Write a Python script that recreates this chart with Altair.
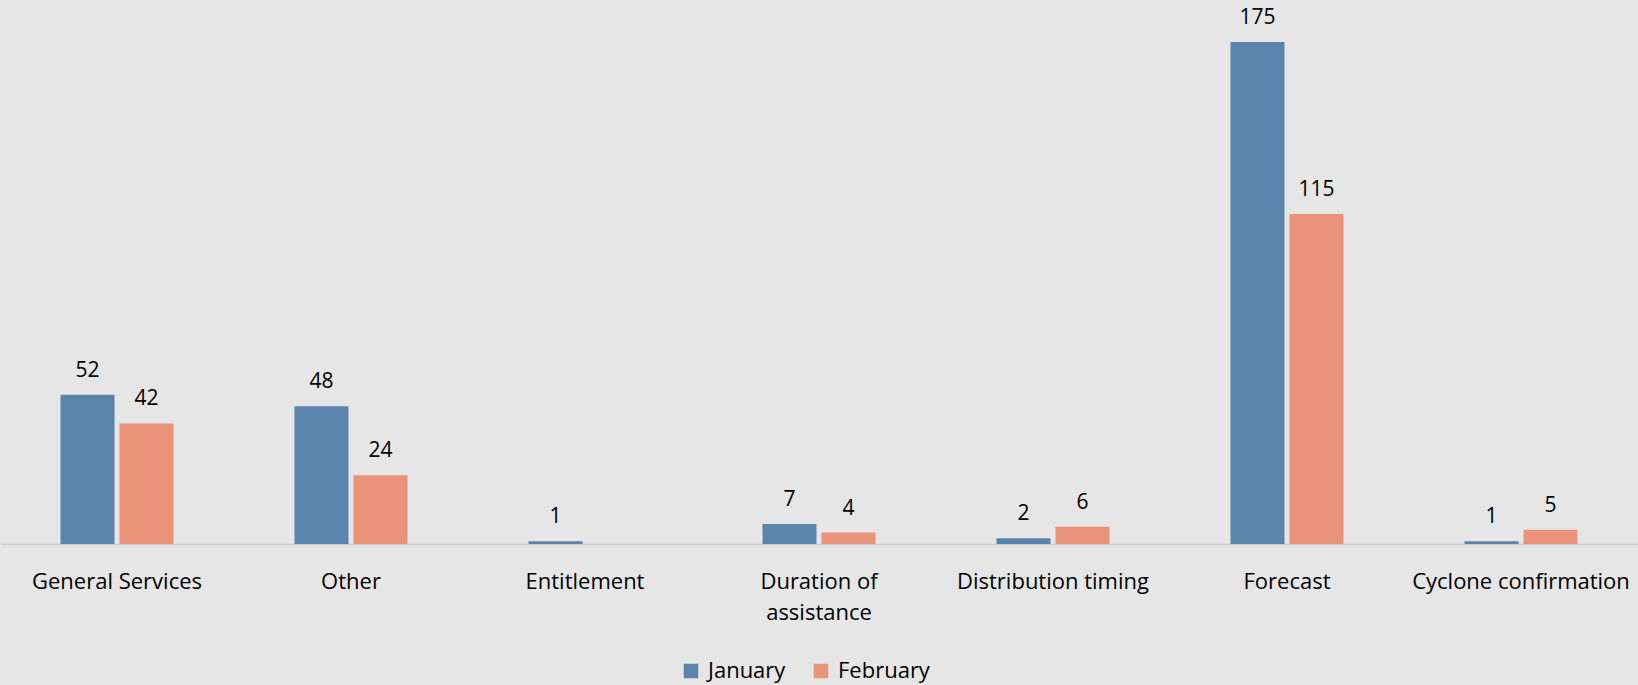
import altair as alt
import pandas as pd

categories = ["General Services", "Other", "Entitlement", "Duration of assistance",
              "Distribution timing", "Forecast", "Cyclone confirmation"]
january = [52, 48, 1, 7, 2, 175, 1]
february = [42, 24, 0, 4, 6, 115, 5]
series = ["January", "February"]
colors = ["#5b84ad", "#e8937a"]

rows = []
for c, j, f in zip(categories, january, february):
    rows.append({"category": c, "series": "January", "value": j})
    rows.append({"category": c, "series": "February", "value": f})
df = pd.DataFrame(rows)

FONT = "Open Sans"

x = alt.X("category:N", sort=categories, title=None,
          scale=alt.Scale(paddingInner=0.517, paddingOuter=0.2585),
          axis=alt.Axis(labelAngle=0, ticks=False, labelPadding=27, labelFontSize=22,
                        labelFont=FONT, labelColor="#000000", domainColor="#d0d0d0",
                        domainWidth=1.5, labelLimit=400, labelLineHeight=31,
                        labelExpr="datum.label == 'Duration of assistance' ? ['Duration of', 'assistance'] : datum.label"))
xo = alt.XOffset("series:N", sort=series, scale=alt.Scale(paddingInner=0.085, paddingOuter=0))
y = alt.Y("value:Q", scale=alt.Scale(domain=[0, 189.6], nice=False), axis=None)

bars = alt.Chart(df).mark_bar().encode(
    x=x, xOffset=xo, y=y,
    color=alt.Color("series:N", sort=series,
                    scale=alt.Scale(domain=series, range=colors),
                    legend=alt.Legend(title=None, orient="none", direction="horizontal",
                                      legendX=680, legendY=660, symbolType="square",
                                      symbolSize=210, symbolStrokeWidth=0,
                                      labelFontSize=22, labelFont=FONT, labelColor="#000000",
                                      columnPadding=24, labelOffset=6))
)

labels = alt.Chart(df).transform_filter("datum.value > 0").mark_text(
    baseline="bottom", dy=-14, fontSize=21, font=FONT, color="#000000"
).encode(x=x, xOffset=xo, y=y, text="value:Q")

chart = (bars + labels).properties(
    width=1638, height=544,
    background="#e6e6e6",
    padding={"left": 0, "top": 0, "right": 0, "bottom": 141},
    autosize=alt.AutoSizeParams(type="none"),
).configure_view(stroke=None, fill="#e6e6e6")

chart.save("out.html", embed_options={"renderer": "svg", "actions": False})
